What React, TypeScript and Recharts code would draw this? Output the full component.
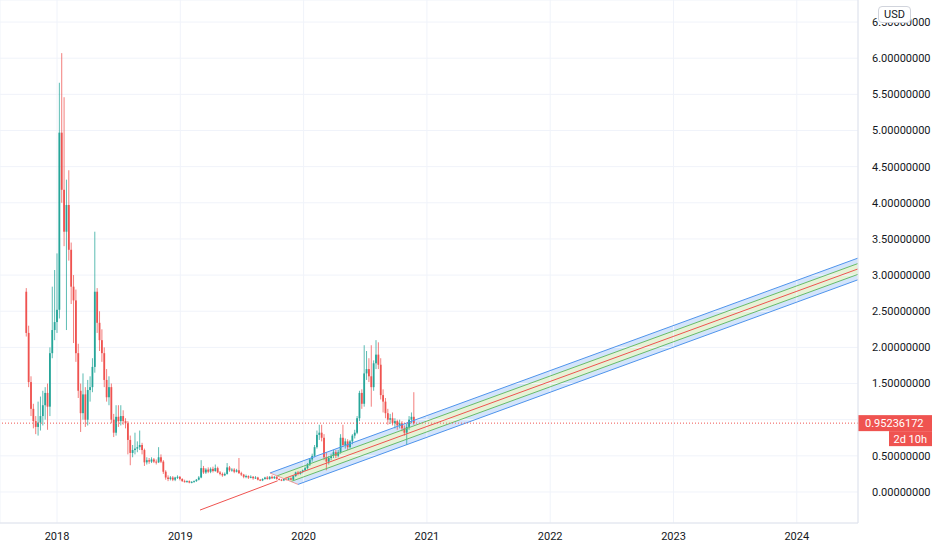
import React from 'react';
import { ComposedChart, Bar, Line, Area, XAxis, YAxis, CartesianGrid, ReferenceLine } from 'recharts';

// weekly candles, first week starts 2017-10-02
const opens = [
	2.77, 2.2, 1.52, 1.15, 0.98, 0.9, 0.96, 1.05, 1.2, 1.37, 1.18, 1.92, 2.24, 2.35, 2.52, 4.97, 4.18, 3.6, 3.97, 3.35,
	2.84, 2.65, 1.92, 1.4, 1.09, 1.35, 1.0, 1.41, 1.45, 1.73, 2.77, 2.34, 2.1, 1.92, 1.55, 1.31, 1.45, 1.0, 0.82, 1.04,
	0.98, 1.05, 0.98, 0.95, 0.72, 0.54, 0.58, 0.6, 0.62, 0.65, 0.58, 0.41, 0.44, 0.42, 0.45, 0.42, 0.41, 0.48, 0.42, 0.28,
	0.2, 0.18, 0.2, 0.17, 0.2, 0.21, 0.18, 0.15, 0.14, 0.15, 0.13, 0.14, 0.15, 0.17, 0.2, 0.33, 0.27, 0.31, 0.28, 0.32,
	0.29, 0.33, 0.27, 0.25, 0.23, 0.25, 0.34, 0.3, 0.31, 0.28, 0.3, 0.26, 0.24, 0.21, 0.22, 0.2, 0.21, 0.19, 0.2, 0.17,
	0.16, 0.18, 0.2, 0.18, 0.21, 0.19, 0.21, 0.18, 0.17, 0.16, 0.18, 0.17, 0.19, 0.17, 0.22, 0.27, 0.25, 0.28, 0.3, 0.33,
	0.38, 0.45, 0.5, 0.62, 0.79, 0.82, 0.75, 0.48, 0.42, 0.47, 0.5, 0.55, 0.5, 0.55, 0.75, 0.65, 0.7, 0.62, 0.7, 0.78,
	0.82, 1.02, 1.37, 1.22, 1.64, 1.7, 1.6, 1.45, 1.78, 1.9, 1.76, 1.34, 1.25, 1.09, 1.0, 1.02, 0.95, 0.98, 0.92, 0.95,
	0.88, 0.82, 0.9, 1.0, 1.04,
];
const highs = [
	2.82, 2.3, 1.6, 1.22, 1.05, 1.25, 1.32, 1.4, 1.45, 1.5, 2.0, 2.84, 3.07, 3.3, 5.66, 6.07, 5.46, 4.32, 4.45, 3.45,
	3.0, 2.8, 2.05, 1.5, 1.64, 1.45, 1.55, 1.6, 1.85, 3.6, 2.82, 2.5, 2.25, 2.0, 1.7, 1.6, 1.5, 1.08, 1.2, 1.2,
	1.2, 1.13, 1.02, 0.98, 0.78, 0.65, 0.82, 0.7, 0.85, 0.68, 0.6, 0.48, 0.47, 0.48, 0.47, 0.45, 0.62, 0.52, 0.44, 0.3,
	0.23, 0.22, 0.22, 0.21, 0.23, 0.22, 0.19, 0.17, 0.16, 0.16, 0.15, 0.16, 0.18, 0.22, 0.44, 0.36, 0.33, 0.34, 0.34, 0.35,
	0.38, 0.35, 0.29, 0.27, 0.27, 0.4, 0.36, 0.33, 0.33, 0.32, 0.47, 0.28, 0.25, 0.24, 0.23, 0.23, 0.22, 0.22, 0.21, 0.18,
	0.19, 0.21, 0.22, 0.22, 0.23, 0.22, 0.22, 0.19, 0.18, 0.19, 0.19, 0.2, 0.2, 0.23, 0.28, 0.29, 0.29, 0.31, 0.35, 0.4,
	0.47, 0.53, 0.65, 0.85, 0.93, 0.93, 0.8, 0.55, 0.5, 0.53, 0.58, 0.58, 0.58, 0.8, 0.93, 0.74, 0.73, 0.72, 0.8, 0.86,
	1.05, 1.4, 1.42, 2.03, 1.95, 1.85, 2.03, 1.82, 2.1, 2.07, 1.85, 1.42, 1.3, 1.15, 1.08, 1.1, 1.02, 1.0, 1.0, 0.98,
	0.92, 0.94, 1.05, 1.1, 1.38,
];
const lows = [
	2.15, 1.45, 1.05, 0.88, 0.8, 0.78, 0.85, 0.92, 1.0, 0.86, 1.05, 1.85, 2.1, 2.2, 2.4, 4.0, 3.4, 2.24, 3.2, 2.6,
	2.06, 1.8, 1.3, 0.83, 1.0, 0.9, 0.92, 1.25, 1.38, 1.65, 2.2, 1.95, 1.8, 1.45, 1.25, 1.2, 0.95, 0.76, 0.78, 0.9,
	0.92, 0.93, 0.88, 0.52, 0.37, 0.48, 0.52, 0.55, 0.58, 0.52, 0.36, 0.38, 0.39, 0.4, 0.4, 0.38, 0.4, 0.4, 0.25, 0.17,
	0.15, 0.16, 0.15, 0.15, 0.18, 0.16, 0.14, 0.13, 0.13, 0.12, 0.12, 0.13, 0.14, 0.16, 0.19, 0.25, 0.25, 0.26, 0.26, 0.27,
	0.28, 0.26, 0.23, 0.21, 0.22, 0.24, 0.28, 0.28, 0.26, 0.27, 0.25, 0.22, 0.19, 0.19, 0.18, 0.19, 0.17, 0.18, 0.16, 0.15,
	0.15, 0.17, 0.17, 0.17, 0.18, 0.18, 0.17, 0.16, 0.15, 0.15, 0.16, 0.16, 0.16, 0.16, 0.21, 0.23, 0.24, 0.26, 0.29, 0.31,
	0.36, 0.42, 0.48, 0.6, 0.72, 0.7, 0.44, 0.3, 0.38, 0.44, 0.47, 0.47, 0.48, 0.53, 0.62, 0.6, 0.58, 0.6, 0.66, 0.74,
	0.8, 0.98, 1.15, 1.18, 1.55, 1.52, 1.18, 1.4, 1.7, 1.7, 1.28, 1.1, 1.02, 0.93, 0.94, 0.92, 0.88, 0.86, 0.88, 0.84,
	0.78, 0.65, 0.86, 0.95, 0.93,
];
const closes = [
	2.2, 1.52, 1.15, 0.98, 0.9, 0.96, 1.05, 1.2, 1.37, 1.18, 1.92, 2.24, 2.35, 2.52, 4.97, 4.18, 3.6, 3.97, 3.35, 2.84,
	2.65, 1.92, 1.4, 1.09, 1.35, 1.0, 1.41, 1.45, 1.73, 2.77, 2.34, 2.1, 1.92, 1.55, 1.31, 1.45, 1.0, 0.82, 1.04, 0.98,
	1.05, 0.98, 0.95, 0.72, 0.54, 0.58, 0.6, 0.62, 0.65, 0.58, 0.41, 0.44, 0.42, 0.45, 0.42, 0.41, 0.48, 0.42, 0.28, 0.2,
	0.18, 0.2, 0.17, 0.2, 0.21, 0.18, 0.15, 0.14, 0.15, 0.13, 0.14, 0.15, 0.17, 0.2, 0.33, 0.27, 0.31, 0.28, 0.32, 0.29,
	0.33, 0.27, 0.25, 0.23, 0.25, 0.34, 0.3, 0.31, 0.28, 0.3, 0.26, 0.24, 0.21, 0.22, 0.2, 0.21, 0.19, 0.2, 0.17, 0.16,
	0.18, 0.2, 0.18, 0.21, 0.19, 0.21, 0.18, 0.17, 0.16, 0.18, 0.17, 0.19, 0.17, 0.22, 0.27, 0.25, 0.28, 0.3, 0.33, 0.38,
	0.45, 0.5, 0.62, 0.79, 0.82, 0.75, 0.48, 0.42, 0.47, 0.5, 0.55, 0.5, 0.55, 0.75, 0.65, 0.7, 0.62, 0.7, 0.78, 0.82,
	1.02, 1.37, 1.22, 1.64, 1.7, 1.6, 1.45, 1.78, 1.9, 1.76, 1.34, 1.25, 1.09, 1.0, 1.02, 0.95, 0.98, 0.92, 0.95, 0.88,
	0.82, 0.9, 1.0, 1.04, 0.95236172,
];

const lastPrice = 0.95236172;
const countdown = '2d 10h';
const yearTicks = [2018, 2019, 2020, 2021, 2022, 2023, 2024];
const priceTicks = [0, 0.5, 1, 1.5, 2, 2.5, 3, 3.5, 4, 4.5, 5, 5.5, 6, 6.5];

// channel drawing (time in years, price in USD)
const channelStartT = [2019.727, 2019.784, 2019.841, 2019.898, 2019.955];
const channelStartV = [0.263, 0.223, 0.184, 0.145, 0.105];
const channelEndT = 2024.496;
const channelEndV = [3.235, 3.16, 3.085, 3.01, 2.935];
const channelColors = ['#4f94ec', '#66bb6a', '#ef5350', '#66bb6a', '#4f94ec'];
// value of the upper line at the start of the lower one, for each band
const bandUpperAtLowerStart = [0.299, 0.294, 0.18];
const bandUpperEnd = [3.235, 3.16, 3.01];
const bandLowerEnd = [3.16, 3.01, 2.935];
const bandFills = ['#d3e4fb', '#e6f2d6', '#d3e4fb'];
const bandLines = [
	[0, 1],
	[1, 3],
	[3, 4],
];

const trendT = [2019.16, 2019.79];
const trendV = [-0.25, 0.155];

const UP = '#26a69a';
const DOWN = '#ef5350';
const TEXT = '#131722';
const GRID = '#f0f3fa';

const X0 = 2017.5377;
const X1 = 2024.4964;
const Y0 = -0.429;
const Y1 = 6.805;
const W = 932;
const H = 550;
const AXIS_W = 74;
const AXIS_H = 27;

const DAY = 86400000;
const weekStart = Date.UTC(2017, 9, 2);
const toYear = (ms: number) => 2018 + (ms - Date.UTC(2018, 0, 1)) / (365.25 * DAY);

const candles = opens.map((open, i) => ({
	t: toYear(weekStart + i * 7 * DAY),
	open,
	high: highs[i],
	low: lows[i],
	close: closes[i],
	range: [lows[i], highs[i]],
}));

// each band gets its own data set: left corner, slanted left edge, right end
const bands = bandLines.map(([a, b], k) => [
	{ t: channelStartT[a], r: [channelStartV[a], channelStartV[a]] },
	{ t: channelStartT[b], r: [channelStartV[b], bandUpperAtLowerStart[k]] },
	{ t: channelEndT, r: [bandLowerEnd[k], bandUpperEnd[k]] },
]);

const channelLines = channelStartT.map((t, i) => [
	{ t, v: channelStartV[i] },
	{ t: channelEndT, v: channelEndV[i] },
]);

const leftEdge = [
	{ t: channelStartT[0], v: channelStartV[0] },
	{ t: channelStartT[4], v: channelStartV[4] },
];
const trendLine = trendT.map((t, i) => ({ t, v: trendV[i] }));

function Candle(props: any) {
	const { x, y, width, height, payload } = props;
	if (!payload) return <g />;
	const { open, close, high, low } = payload;
	const top = Math.min(y, y + height);
	const h = Math.abs(height);
	const pix = (v: number) => (high === low ? top : top + ((high - v) / (high - low)) * h);
	const color = close >= open ? UP : DOWN;
	const cx = x + width / 2;
	const bTop = pix(Math.max(open, close));
	const bBot = pix(Math.min(open, close));
	return (
		<g>
			<line x1={cx} x2={cx} y1={top} y2={top + h} stroke={color} strokeWidth={1} strokeOpacity={0.75} />
			<rect x={cx - 0.9} y={bTop} width={1.8} height={Math.max(bBot - bTop, 1)} fill={color} />
		</g>
	);
}

// the last price label hides the tick it sits on, as in the original
function PriceTick(props: any) {
	const { x, y, payload, textAnchor } = props;
	if (Math.abs(payload.value - lastPrice) < 0.15) return <g />;
	return (
		<text x={x} y={y} dy="0.355em" textAnchor={textAnchor} fontSize={11} fill={TEXT}>
			{Number(payload.value).toFixed(8)}
		</text>
	);
}

function PriceLabel(props: any) {
	const vb = props.viewBox;
	if (!vb) return null;
	const left = vb.x + vb.width;
	const cy = vb.y;
	return (
		<g>
			<rect x={left} y={cy - 8} width={74} height={16} fill={DOWN} />
			<text x={left + 7} y={cy + 4} fill="#fff" fontSize={11} fontFamily="Roboto, sans-serif">
				{lastPrice.toFixed(8)}
			</text>
			<rect x={left + 31} y={cy + 8} width={43} height={15} fill={DOWN} />
			<text x={left + 69} y={cy + 19.5} fill="#fff" fontSize={11} textAnchor="end" fontFamily="Roboto, sans-serif">
				{countdown}
			</text>
		</g>
	);
}

// one hidden-axis layer per channel band, same plot area as the main chart
function BandLayer({ data, fill }: { data: any[]; fill: string }) {
	return (
		<div style={{ position: 'absolute', left: 0, top: 0 }}>
			<ComposedChart width={W} height={H} data={data} margin={{ top: 0, right: AXIS_W, bottom: AXIS_H, left: 0 }}>
				<XAxis type="number" dataKey="t" domain={[X0, X1]} allowDataOverflow hide />
				<YAxis type="number" domain={[Y0, Y1]} allowDataOverflow hide />
				<Area dataKey="r" type="linear" stroke="none" fill={fill} fillOpacity={1} dot={false} activeDot={false} isAnimationActive={false} />
			</ComposedChart>
		</div>
	);
}

export default function App() {
	return (
		<div style={{ position: 'absolute', left: 0, top: 0, width: W, height: H, background: '#fff', fontFamily: 'Roboto, sans-serif' }}>
			{bands.map((d, k) => (
				<BandLayer key={`band-${k}`} data={d} fill={bandFills[k]} />
			))}
			<div style={{ position: 'absolute', left: 0, top: 0 }}>
				<ComposedChart width={W} height={H} data={candles} margin={{ top: 0, right: 0, bottom: 0, left: 0 }}>
					<CartesianGrid stroke={GRID} strokeWidth={1} />
					<XAxis
						type="number"
						dataKey="t"
						domain={[X0, X1]}
						allowDataOverflow
						ticks={yearTicks}
						tickFormatter={(v: number) => String(Math.round(v))}
						height={AXIS_H}
						tickLine={false}
						tickMargin={3}
						axisLine={{ stroke: '#e0e3eb' }}
						tick={{ fontSize: 11, fill: TEXT }}
					/>
					<YAxis
						orientation="right"
						type="number"
						domain={[Y0, Y1]}
						allowDataOverflow
						ticks={priceTicks}
						width={AXIS_W}
						tickLine={false}
						tickMargin={8}
						axisLine={{ stroke: '#e0e3eb' }}
						tick={<PriceTick />}
					/>
					{channelLines.map((d, i) => (
						<Line
							key={`ch-${i}`}
							data={d}
							dataKey="v"
							type="linear"
							stroke={channelColors[i]}
							strokeWidth={1}
							dot={false}
							activeDot={false}
							isAnimationActive={false}
						/>
					))}
					<Line data={leftEdge} dataKey="v" type="linear" stroke="#ef9a9a" strokeWidth={1} dot={false} activeDot={false} isAnimationActive={false} />
					<Line data={trendLine} dataKey="v" type="linear" stroke="#ef5350" strokeWidth={1} dot={false} activeDot={false} isAnimationActive={false} />
					<ReferenceLine y={lastPrice} stroke={DOWN} strokeDasharray="1 2" strokeWidth={1} label={<PriceLabel />} />
					<Bar dataKey="range" barSize={2} shape={<Candle />} isAnimationActive={false} />
				</ComposedChart>
			</div>
			<div
				style={{
					position: 'absolute',
					left: 878,
					top: 6,
					width: 31,
					height: 15,
					border: '1px solid #d1d4dc',
					borderRadius: 4,
					background: '#fff',
					fontSize: 11,
					color: TEXT,
					textAlign: 'center',
					lineHeight: '15px',
				}}
			>
				USD
			</div>
		</div>
	);
}
